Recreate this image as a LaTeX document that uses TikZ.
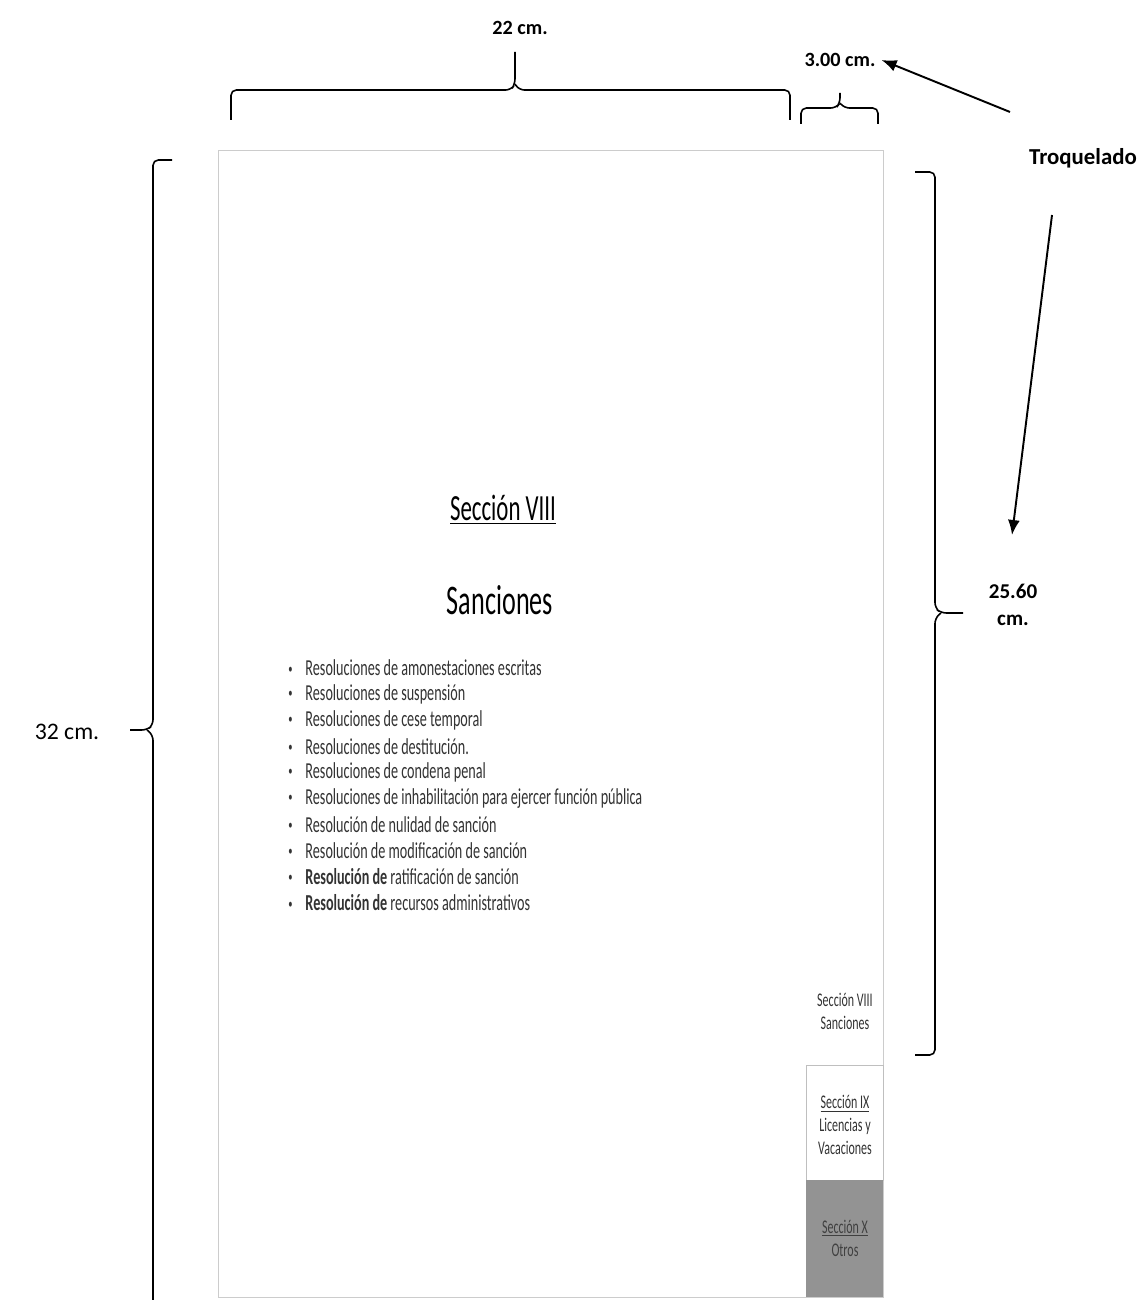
\documentclass[tikz,border=0pt]{standalone}
\usepackage{fontspec}
\setmainfont{Carlito}
\newfontfamily\narrowfont[FakeStretch=0.62]{Carlito}
\usetikzlibrary{calc,arrows.meta}

\begin{document}
\begin{tikzpicture}[x=0.02cm,y=-0.02cm,
    dim/.style={font=\bfseries\fontsize{11.5}{14}\selectfont,inner sep=1pt},
    brace/.style={line width=0.9pt,rounded corners=3pt},
    arrowline/.style={line width=1.1pt,-{Latex[length=3mm,width=2.4mm]}},
    item/.style={anchor=west,inner sep=0pt,text=black!80,font=\narrowfont\fontsize{13}{14}\selectfont},
    tabtext/.style={align=center,inner sep=0pt,text=black!80,font=\narrowfont\fontsize{11}{13}\selectfont}]

        \useasboundingbox (0,0) rectangle (1144,1300);

        % the sheet
        \draw[gray!40] (218,150) rectangle (883,1297);
        \draw[gray!50] (806,1065) rectangle (883,1180);
        \fill[gray!85] (806,1180) rectangle (883,1297);

        % titles
        \node[font=\narrowfont\fontsize{21}{24}\selectfont] (title) at (503,510) {\underline{Sección VIII}};
        \node[font=\narrowfont\fontsize{24}{26}\selectfont] (subtitle) at (500,600) {Sanciones};

        \foreach \txt [count=\i from 0] in {
            {Resoluciones de amonestaciones escritas},
            {Resoluciones de suspensión},
            {Resoluciones de cese temporal},
            {Resoluciones de destitución.},
            {Resoluciones de condena penal},
            {Resoluciones de inhabilitación para ejercer función pública},
            {Resolución de nulidad de sanción},
            {Resolución de modificación de sanción},
            {\textbf{Resolución de} ratificación de sanción},
            {\textbf{Resolución de} recursos administrativos}}
            \node[item] (item\i) at (288,668+26.1*\i) {\makebox[0.75em][l]{\raisebox{0.12em}{\scalebox{0.6}{\textbullet}}}\txt};

        % tabs
        \node[tabtext] (tab8) at (845,1011) {Sección VIII\\Sanciones};
        \node[tabtext] (tab9) at (845,1125) {\underline{Sección IX}\\Licencias y\\Vacaciones};
        \node[tabtext,text=black!75] (tab10) at (845,1238) {\underline{Sección X}\\Otros};

        % braces
        \draw[brace] (231,120) |- (511,90) -- (515,84) -- (515,52);
        \draw[brace] (515,84) -- (519,90) -| (790,120);
        \draw[brace] (801,124) |- (836,108) -- (840,103) -- (840,93);
        \draw[brace] (840,103) -- (844,108) -| (878,124);
        \draw[brace] (915,172) -| (935,608) -- (941,613) -- (963,613);
        \draw[brace] (941,613) -- (935,618) |- (915,1055);
        \draw[brace] (172,160) -| (153,725) -- (147,730) -- (130,730);
        \draw[brace] (147,730) -- (153,735) -- (153,1300);

        % labels
        \node[dim] (w22) at (520,28) {22 cm.};
        \node[dim] (w3) at (840,60) {3.00 cm.};
        \node[dim,font=\bfseries\fontsize{13}{15}\selectfont] (troq) at (1083,158) {Troquelado};
        \node[dim,align=center,font=\bfseries\fontsize{12}{15}\selectfont] (h25) at (1013,605) {25.60\\cm.};
        \node[font=\fontsize{13.5}{15}\selectfont] (h32) at (67,732) {32 cm.};

        \coordinate (tail1) at (1010,112);
        \coordinate (tail2) at (1052,215);
        \coordinate (head2) at (1012,535);
        \draw[arrowline] (tail1) -- ($(w3.east)+(4,0)$);
        \draw[arrowline] (tail2) -- (head2);

\end{tikzpicture}
\end{document}
